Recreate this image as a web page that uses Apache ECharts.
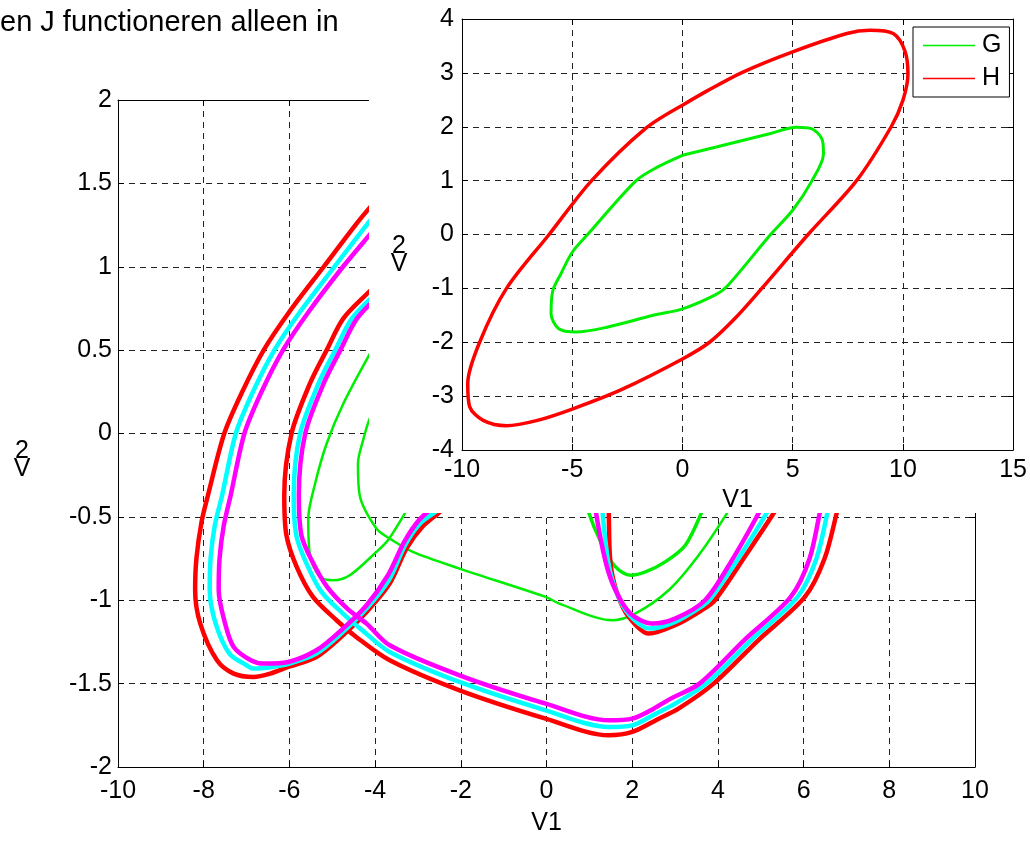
<!DOCTYPE html>
<html>
<head>
<meta charset="utf-8">
<script src="https://cdn.jsdelivr.net/npm/echarts@6/dist/echarts.min.js"></script>
<style>
html,body{margin:0;padding:0;background:#fff;}
#chart{width:1030px;height:841px;}
</style>
</head>
<body>
<div id="chart"></div>
<script>
// ---------- tick labels / axis ranges ----------
const mainXTicks = [-10, -8, -6, -4, -2, 0, 2, 4, 6, 8, 10];
const mainYTicks = [-2, -1.5, -1, -0.5, 0, 0.5, 1, 1.5, 2];
const insetXTicks = [-10, -5, 0, 5, 10, 15];
const insetYTicks = [-4, -3, -2, -1, 0, 1, 2, 3, 4];

// ---------- inset: G and H orbits (V1, V2) ----------
const H_V1 = [0, -1.67, -4.12, -6.05, -7.98, -9.2, -9.74, -9.65, -9.04, -7.98, -6.58, -5.0, -2.72, 0, 1.23, 2.4, 3.6, 5.7, 7.9, 9.47, 10.0, 10.23, 10.09, 9.56, 8.5, 7.46, 5.0, 2.72, 1.14, 0];
const H_V2 = [2.4, 1.97, 1.0, 0, -1.0, -2.0, -2.77, -3.2, -3.45, -3.55, -3.45, -3.24, -2.87, -2.31, -2.0, -1.55, -1.0, 0, 1.0, 2.0, 2.49, 2.98, 3.41, 3.73, 3.79, 3.73, 3.39, 3.01, 2.67, 2.4];
const G_V1 = [0, -1.14, -2.1, -4.3, -5.0, -5.5, -5.88, -5.96, -5.61, -4.82, -3.42, -1.32, 0, 1.49, 2.05, 4.0, 5.0, 5.88, 6.4, 6.32, 5.88, 5.18, 3.95, 1.49, 0];
const G_V2 = [1.47, 1.25, 1.0, 0.0, -0.33, -0.72, -1.04, -1.47, -1.75, -1.81, -1.72, -1.5, -1.38, -1.12, -0.95, 0.0, 0.45, 1.0, 1.5, 1.78, 1.96, 1.99, 1.87, 1.62, 1.47];

// ---------- main plot: trajectory pieces ----------
// outer loop (A)
const redA_V1 = [-3.9, -4.14, -4.46, -5.2, -6.0, -6.6, -7.1, -7.52, -7.9, -8.05, -8.17, -8.2, -8.08, -7.69, -7.3, -6.84, -6.45, -6.03, -5.37, -4.75, -4.2, -3.66, -3.27, -2.9, -2.4, -2.2];
const redA_V2 = [1.42, 1.35, 1.25, 1.0, 0.73, 0.5, 0.25, 0.0, -0.37, -0.53, -0.75, -0.94, -1.14, -1.36, -1.44, -1.46, -1.44, -1.40, -1.34, -1.21, -1.07, -0.90, -0.69, -0.56, -0.45, -0.38];
const cyanA_V1 = [-3.9, -4.2, -4.95, -5.75, -6.35, -6.85, -7.25, -7.57, -7.74, -7.84, -7.86, -7.72, -7.4, -7.0, -6.84, -6.4, -6.0, -5.37, -4.75, -4.2, -3.68, -3.3, -2.95, -2.5, -2.3];
const cyanA_V2 = [1.34, 1.25, 1.0, 0.73, 0.5, 0.25, 0.0, -0.37, -0.55, -0.75, -0.94, -1.14, -1.32, -1.39, -1.41, -1.40, -1.38, -1.32, -1.19, -1.05, -0.88, -0.67, -0.54, -0.45, -0.38];
const magA_V1 = [-3.9, -4.1, -4.75, -5.55, -6.15, -6.65, -7.05, -7.37, -7.53, -7.63, -7.65, -7.5, -7.3, -6.9, -6.6, -6.03, -5.37, -4.75, -4.2, -3.7, -3.32, -2.98, -2.6, -2.4];
const magA_V2 = [1.26, 1.2, 1.0, 0.73, 0.5, 0.25, 0.0, -0.37, -0.55, -0.75, -0.94, -1.14, -1.28, -1.36, -1.38, -1.37, -1.30, -1.17, -1.03, -0.85, -0.65, -0.52, -0.43, -0.36];
// inner loop + long bottom (B)
const redB_V1 = [-3.9, -4.14, -4.74, -5.13, -5.52, -5.95, -6.12, -6.07, -5.83, -5.45, -4.9, -4.44, -3.66, -2.03, -0.02, 1.45, 2.0, 2.62, 3.08, 3.9, 4.94, 6.03, 6.49, 6.8, 6.9];
const redB_V2 = [0.91, 0.85, 0.69, 0.50, 0.30, 0.0, -0.37, -0.61, -0.80, -0.98, -1.12, -1.22, -1.36, -1.54, -1.71, -1.81, -1.79, -1.71, -1.65, -1.50, -1.24, -0.98, -0.75, -0.45, -0.36];
const cyanB_V1 = [-3.7, -3.94, -4.54, -4.93, -5.32, -5.75, -5.9, -5.84, -5.6, -5.25, -4.75, -4.3, -3.66, -2.03, -0.02, 1.45, 2.0, 2.55, 3.0, 3.73, 4.77, 5.86, 6.3, 6.58, 6.68];
const cyanB_V2 = [0.91, 0.85, 0.69, 0.50, 0.30, 0.0, -0.37, -0.61, -0.78, -0.95, -1.08, -1.18, -1.31, -1.49, -1.66, -1.76, -1.75, -1.68, -1.62, -1.50, -1.24, -0.98, -0.75, -0.45, -0.36];
const magB_V1 = [-3.58, -3.82, -4.42, -4.81, -5.2, -5.63, -5.78, -5.72, -5.48, -5.12, -4.65, -4.2, -3.66, -2.03, -0.02, 1.45, 2.0, 2.5, 2.9, 3.57, 4.61, 5.7, 6.14, 6.4, 6.5];
const magB_V2 = [0.91, 0.85, 0.69, 0.50, 0.30, 0.0, -0.37, -0.61, -0.76, -0.92, -1.05, -1.14, -1.27, -1.45, -1.62, -1.72, -1.71, -1.65, -1.59, -1.50, -1.24, -0.98, -0.75, -0.45, -0.36];
// right-hand V (C)
const redC_V1 = [1.42, 1.45, 1.49, 1.65, 1.92, 2.38, 3.0, 3.62, 3.93, 4.65, 5.37, 5.5];
const redC_V2 = [-0.35, -0.45, -0.77, -0.96, -1.10, -1.20, -1.15, -1.06, -1.0, -0.73, -0.45, -0.38];
const cyanC_V1 = [1.28, 1.3, 1.44, 1.63, 1.94, 2.42, 3.0, 3.66, 3.8, 4.5, 5.2, 5.32];
const cyanC_V2 = [-0.35, -0.45, -0.77, -0.95, -1.09, -1.17, -1.13, -1.03, -1.0, -0.74, -0.45, -0.38];
const magC_V1 = [1.12, 1.14, 1.38, 1.61, 1.96, 2.46, 3.0, 3.7, 4.35, 5.01, 5.12];
const magC_V2 = [-0.35, -0.45, -0.77, -0.94, -1.08, -1.14, -1.11, -1.0, -0.75, -0.45, -0.38];
// green pieces
const greenLoop_V1 = [-3.9, -4.14, -4.74, -5.13, -5.4, -5.56, -5.52, -5.29, -4.98, -4.59, -3.97, -3.7, -3.24, -3.1];
const greenLoop_V2 = [0.57, 0.47, 0.18, -0.06, -0.3, -0.51, -0.73, -0.86, -0.88, -0.85, -0.71, -0.64, -0.45, -0.38];
const greenLong_V1 = [-4.0, -4.14, -4.28, -4.4, -4.36, -3.97, -3.66, -3.12, -2.03, -0.02, 0.3, 1.53, 2.07, 2.85, 3.55, 4.28, 4.4];
const greenLong_V2 = [0.15, 0.08, -0.04, -0.18, -0.37, -0.57, -0.63, -0.71, -0.81, -0.98, -1.02, -1.12, -1.08, -0.94, -0.73, -0.45, -0.38];
const greenC_V1 = [0.92, 0.95, 1.3, 1.61, 1.96, 2.31, 2.77, 3.24, 3.66, 3.75];
const greenC_V2 = [-0.38, -0.45, -0.67, -0.80, -0.85, -0.83, -0.77, -0.67, -0.45, -0.38];

// ---------- build chart ----------
const FONT = '"Liberation Sans", Arial, sans-serif';
const FS = 25;
const RED = '#FF0000', GREEN = '#00EE00', CYAN = '#00FFFF', MAGENTA = '#FF00FF';
function pts(xs, ys) { return xs.map((x, i) => [x, ys[i]]); }
function line(name, xs, ys, color, width, xi, yi, z) {
  return {
    type: 'line', name: name, data: pts(xs, ys), xAxisIndex: xi, yAxisIndex: yi,
    showSymbol: false, symbol: 'none', smooth: 0.3, z: z, silent: true,
    lineStyle: { color: color, width: width }, itemStyle: { color: color },
    animation: false
  };
}
const dash = { type: [6, 5], color: '#222', width: 1 };
const lbl = { color: '#000', fontSize: FS, fontFamily: FONT };

function axisPair(gridIndex, ticks, isX, z, nameText, nameGap, labelMargin) {
  const min = ticks[0], max = ticks[ticks.length - 1], interval = ticks[1] - ticks[0];
  const main = {
    type: 'value', gridIndex: gridIndex, min: min, max: max, interval: interval, z: z,
    position: isX ? 'bottom' : 'left',
    axisLine: { show: true, onZero: false, lineStyle: { color: '#000', width: 1 } },
    axisTick: { show: true, inside: true, length: 6, lineStyle: { color: '#000' } },
    axisLabel: Object.assign({ margin: labelMargin, showMinLabel: true, showMaxLabel: true }, lbl),
    splitLine: { show: true, lineStyle: dash }
  };
  if (nameText) {
    main.name = nameText; main.nameLocation = 'middle'; main.nameGap = nameGap;
    main.nameTextStyle = { color: '#000', fontSize: FS, fontFamily: FONT };
  }
  const twin = {
    type: 'value', gridIndex: gridIndex, min: min, max: max, interval: interval, z: z,
    position: isX ? 'top' : 'right',
    axisLine: { show: true, onZero: false, lineStyle: { color: '#000', width: 1 } },
    axisTick: { show: true, inside: true, length: 6, lineStyle: { color: '#000' } },
    axisLabel: { show: false }, splitLine: { show: false }
  };
  return [main, twin];
}

const mainX = axisPair(0, mainXTicks, true, 1, 'V1', 44, 12);
const mainY = axisPair(0, mainYTicks, false, 1, null, 0, 6);
const insX = axisPair(1, insetXTicks, true, 60, 'V1', 32, 8);
const insY = axisPair(1, insetYTicks, false, 60, null, 0, 8);

const option = {
  backgroundColor: '#fff',
  animation: false,
  grid: [
    { left: 118, top: 100, width: 857, height: 675, show: false, containLabel: false },
    { left: 462, top: 19, width: 552, height: 431, show: false, containLabel: false, z: 55 }
  ],
  xAxis: [mainX[0], mainX[1], insX[0], insX[1]],
  yAxis: [mainY[0], mainY[1], insY[0], insY[1]],
  legend: {
    data: ['G', 'H'], orient: 'vertical', left: 913, top: 27, z: 100,
    icon: 'rect', itemWidth: 52, itemHeight: 1.5, itemGap: 8,
    backgroundColor: '#fff', borderColor: '#000', borderWidth: 1, borderRadius: 0,
    padding: [6, 8, 6, 10], selectedMode: false,
    textStyle: { color: '#000', fontSize: FS, fontFamily: FONT, padding: [0, 0, 0, 2] }
  },
  graphic: [
    { type: 'rect', z: 50, silent: true, shape: { x: 369, y: 0, width: 661, height: 513 }, style: { fill: '#fff' } },
    { type: 'text', z: 100, left: 0, top: 8, style: { text: 'en J functioneren alleen in', fill: '#000', font: '29px ' + FONT } },
    { type: 'text', z: 100, x: 22, y: 451, style: { text: '2', fill: '#000', font: FS + 'px ' + FONT, align: 'center', verticalAlign: 'middle' } },
    { type: 'text', z: 100, x: 22, y: 469, style: { text: 'V', fill: '#000', font: FS + 'px ' + FONT, align: 'center', verticalAlign: 'middle' } },
    { type: 'text', z: 100, x: 399, y: 246, style: { text: '2', fill: '#000', font: FS + 'px ' + FONT, align: 'center', verticalAlign: 'middle' } },
    { type: 'text', z: 100, x: 399, y: 264, style: { text: 'V', fill: '#000', font: FS + 'px ' + FONT, align: 'center', verticalAlign: 'middle' } }
  ],
  series: [
    line('green loop', greenLoop_V1, greenLoop_V2, GREEN, 2.5, 0, 0, 2),
    line('green long', greenLong_V1, greenLong_V2, GREEN, 2.5, 0, 0, 2),
    line('green V', greenC_V1, greenC_V2, GREEN, 3.5, 0, 0, 2),
    line('red A', redA_V1, redA_V2, RED, 4.5, 0, 0, 3),
    line('red B', redB_V1, redB_V2, RED, 4.5, 0, 0, 3),
    line('red C', redC_V1, redC_V2, RED, 4.5, 0, 0, 3),
    line('cyan A', cyanA_V1, cyanA_V2, CYAN, 4.5, 0, 0, 4),
    line('cyan B', cyanB_V1, cyanB_V2, CYAN, 4.5, 0, 0, 4),
    line('cyan C', cyanC_V1, cyanC_V2, CYAN, 4.5, 0, 0, 4),
    line('magenta A', magA_V1, magA_V2, MAGENTA, 4.5, 0, 0, 5),
    line('magenta B', magB_V1, magB_V2, MAGENTA, 4.5, 0, 0, 5),
    line('magenta C', magC_V1, magC_V2, MAGENTA, 4.5, 0, 0, 5),
    line('G', G_V1, G_V2, GREEN, 3, 2, 2, 61),
    line('H', H_V1, H_V2, RED, 3.5, 2, 2, 62)
  ]
};
const chart = echarts.init(document.getElementById('chart'), null, { renderer: 'canvas' });
chart.setOption(option);
</script>
</body>
</html>
